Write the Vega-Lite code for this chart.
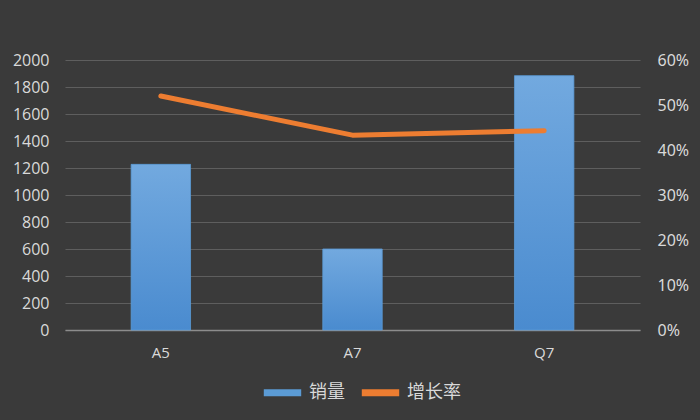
{
  "$schema": "https://vega.github.io/schema/vega-lite/v6.json",
  "width": 575,
  "height": 270,
  "autosize": {"type": "none"},
  "padding": {"left": 65, "top": 60, "right": 60, "bottom": 90},
  "background": "#3a3a3a",
  "data": {
    "values": [
      {"model": "A5", "sales": 1227, "growth": 0.52, "s1": "销量", "s2": "增长率"},
      {"model": "A7", "sales": 600, "growth": 0.433, "s1": "销量", "s2": "增长率"},
      {"model": "Q7", "sales": 1884, "growth": 0.443, "s1": "销量", "s2": "增长率"}
    ]
  },
  "encoding": {
    "x": {
      "field": "model", "type": "nominal", "sort": null,
      "scale": {"paddingInner": 0.69, "paddingOuter": 0.345},
      "axis": {"title": null, "labelAngle": 0, "ticks": false, "domainColor": "#8c8c8c", "domainWidth": 1.5, "labelPadding": 15, "labelFontSize": 15, "labelColor": "#d9d9d9", "labelFont": "Open Sans"}
    }
  },
  "layer": [
    {
      "mark": {
        "type": "bar",
        "stroke": "#5b9bd5",
        "strokeWidth": 0.8,
        "color": {
          "gradient": "linear", "x1": 0, "y1": 0, "x2": 0, "y2": 1,
          "stops": [{"offset": 0, "color": "#72a9df"}, {"offset": 1, "color": "#4a8bcf"}]
        }
      },
      "encoding": {
        "y": {
          "field": "sales", "type": "quantitative",
          "scale": {"domain": [0, 2000], "nice": false},
          "axis": {"title": null, "values": [0,200,400,600,800,1000,1200,1400,1600,1800,2000], "format": "d", "ticks": false, "domain": false, "gridColor": "#5e5e5e", "gridWidth": 1.2, "labelPadding": 16, "labelFontSize": 16, "labelColor": "#d9d9d9", "labelFont": "Open Sans"}
        }
      }
    },
    {
      "mark": {"type": "line", "strokeWidth": 5, "strokeCap": "round", "strokeJoin": "round"},
      "encoding": {
        "y": {
          "field": "growth", "type": "quantitative",
          "scale": {"domain": [0, 0.6], "nice": false},
          "axis": {"title": null, "orient": "right", "values": [0,0.1,0.2,0.3,0.4,0.5,0.6], "format": ".0%", "ticks": false, "domain": false, "grid": false, "labelPadding": 17, "labelFontSize": 16, "labelColor": "#d9d9d9", "labelFont": "Noto Sans"}
        },
        "color": {
          "field": "s2", "type": "nominal",
          "scale": {"domain": ["销量", "增长率"], "range": ["#5b9bd5", "#ed7d31"]},
          "legend": {"title": null, "orient": "none", "legendX": 195, "legendY": 310, "direction": "horizontal", "symbolType": "stroke", "symbolSize": 1400, "symbolStrokeWidth": 7, "labelFontSize": 18, "labelColor": "#d9d9d9", "labelFont": "Noto Sans CJK SC", "columnPadding": 2, "labelOffset": 4}
        }
      }
    }
  ],
  "resolve": {"scale": {"y": "independent"}},
  "config": {"view": {"stroke": null}}
}
